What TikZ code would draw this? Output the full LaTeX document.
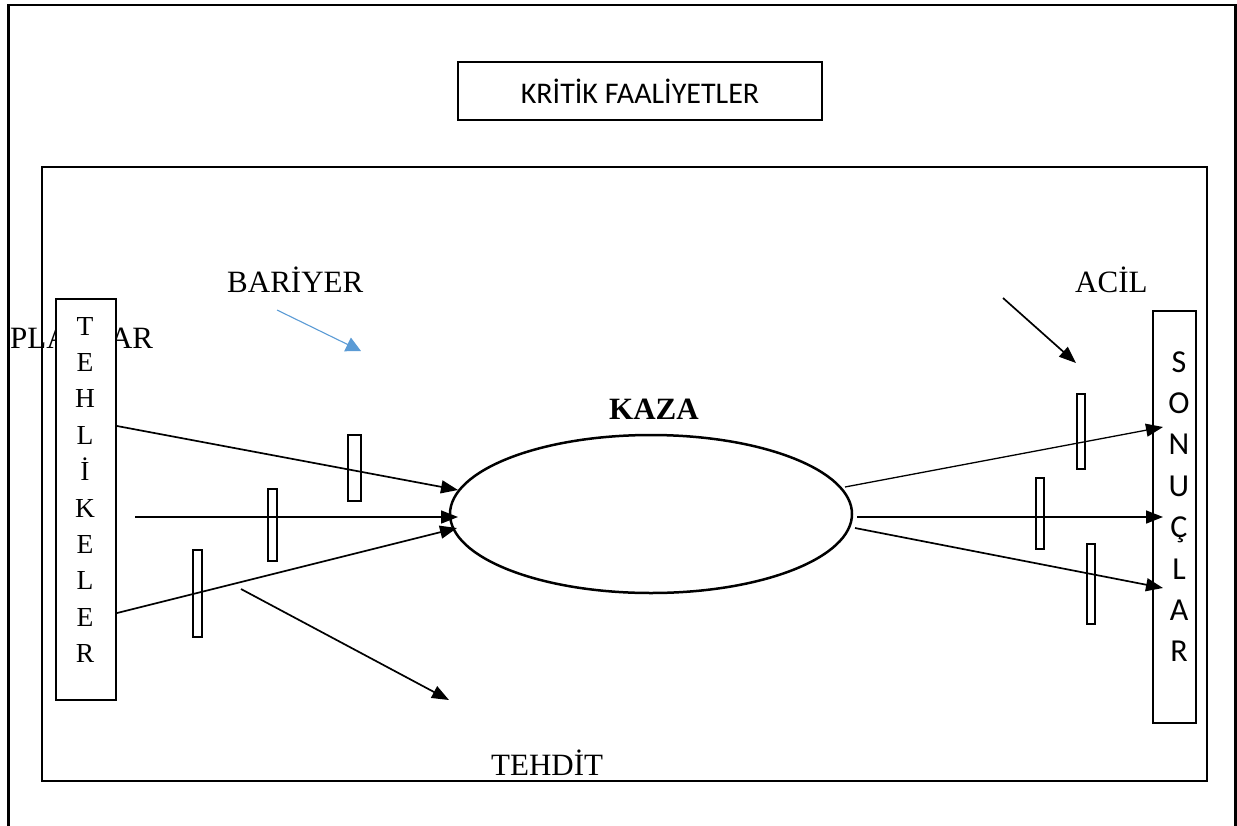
\documentclass[tikz,border=0pt]{standalone}
\usepackage{fontspec}
\setmainfont{Liberation Serif}
\newfontfamily\calib{Carlito}
\usetikzlibrary{arrows.meta,shapes.geometric}

\begin{document}
\begin{tikzpicture}[x=1pt,y=-1pt,
  frame/.style={draw,line width=2.2pt},
  box/.style={draw,line width=2.2pt,inner sep=0pt,fill=white},
  bar/.style={draw,line width=2.2pt,inner sep=0pt},
  arr/.style={line width=1.7pt,-{Triangle[length=17pt,width=13pt]}},
  lbl/.style={inner sep=0pt,anchor=base west,font=\fontsize{31}{37}\selectfont},
  serifletter/.style={inner sep=0pt,anchor=base,font=\fontsize{27.5}{33}\selectfont},
  sansletter/.style={inner sep=0pt,anchor=base,font=\calib\fontsize{32}{38}\selectfont}]
\definecolor{barrierblue}{RGB}{91,155,213}

\useasboundingbox (0,0) rectangle (1237,825);

% page frame (open at the bottom edge)
\draw[frame] (8.5,840) -- (8.5,5) -- (1235.5,5) -- (1235.5,840);

% header box
\node[frame,minimum width=364pt,minimum height=58pt,inner sep=0pt,
      font=\calib\fontsize{30}{36}\selectfont] (kritik) at (640,91) {KRİTİK FAALİYETLER};

% scenario frame
\draw[frame] (42,167) rectangle (1207,781);

% labels
\node[lbl] (planlar) at (10,348) {PLANLAR};
\node[lbl] (bariyer) at (227,292) {BARİYER};
\node[lbl] (acil) at (1075,292) {ACİL};
\node[lbl] (tehdit) at (491,775) {TEHDİT};
\node[lbl,font=\bfseries\fontsize{31}{37}\selectfont] (kazalbl) at (609,419) {KAZA};

% hazards column
\node[box,minimum width=60pt,minimum height=401pt] (tehlikeler) at (86,499.5) {};
\foreach \l [count=\i] in {T,E,H,L,İ,K,E,L,E,R}
  \node[serifletter] (th\i) at (85,335+36.4*\i-36.4) {\l};

% consequences column
\node[box,minimum width=43pt,minimum height=412pt] (sonuclar) at (1174.5,517) {};
\foreach \l [count=\i] in {S,O,N,U,Ç,L,A,R}
  \node[sansletter] (so\i) at (1179,372+41.4*\i-41.4) {\l};

% accident event
\node[ellipse,draw,line width=2.5pt,inner sep=0pt,minimum width=402pt,minimum height=158pt] (kaza) at (651,514) {};

% barriers on the threat side
\node[bar,minimum width=13pt,minimum height=66pt] (b1) at (354.5,468) {};
\node[bar,minimum width=9pt,minimum height=72pt] (b2) at (272.5,525) {};
\node[bar,minimum width=9pt,minimum height=87pt] (b3) at (197.5,593.5) {};

% barriers on the consequence side
\node[bar,minimum width=8pt,minimum height=75pt] (r1) at (1081,431.5) {};
\node[bar,minimum width=8pt,minimum height=71pt] (r2) at (1040,513.5) {};
\node[bar,minimum width=8pt,minimum height=80pt] (r3) at (1091,584) {};

% connector end points
\coordinate (h1) at (117,426);
\coordinate (h2) at (135,517);
\coordinate (h3) at (117,613);
\coordinate (k1) at (458,490);
\coordinate (k2) at (458,517);
\coordinate (k3) at (457,528);
\coordinate (k4) at (845,487);
\coordinate (k5) at (857,517);
\coordinate (k6) at (855,528);
\coordinate (s1) at (1163,427);
\coordinate (s2) at (1163,517);
\coordinate (s3) at (1163,588);
\coordinate (bf) at (277,310);
\coordinate (bt) at (361,351);
\coordinate (tf) at (241,589);
\coordinate (tt) at (449,700);
\coordinate (af) at (1003,298);
\coordinate (at) at (1076,363);

% threats into the accident
\draw[arr] (h1) -- (k1);
\draw[arr] (h2) -- (k2);
\draw[arr] (h3) -- (k3);

% accident into consequences
\draw[arr,line width=1.3pt] (k4) -- (s1);
\draw[arr] (k5) -- (s2);
\draw[arr] (k6) -- (s3);

% pointer arrows
\draw[line width=1.1pt,barrierblue,-{Triangle[length=15pt,width=15pt]}] (bf) -- (bt);
\draw[arr] (tf) -- (tt);
\draw[arr] (af) -- (at);
\end{tikzpicture}
\end{document}
